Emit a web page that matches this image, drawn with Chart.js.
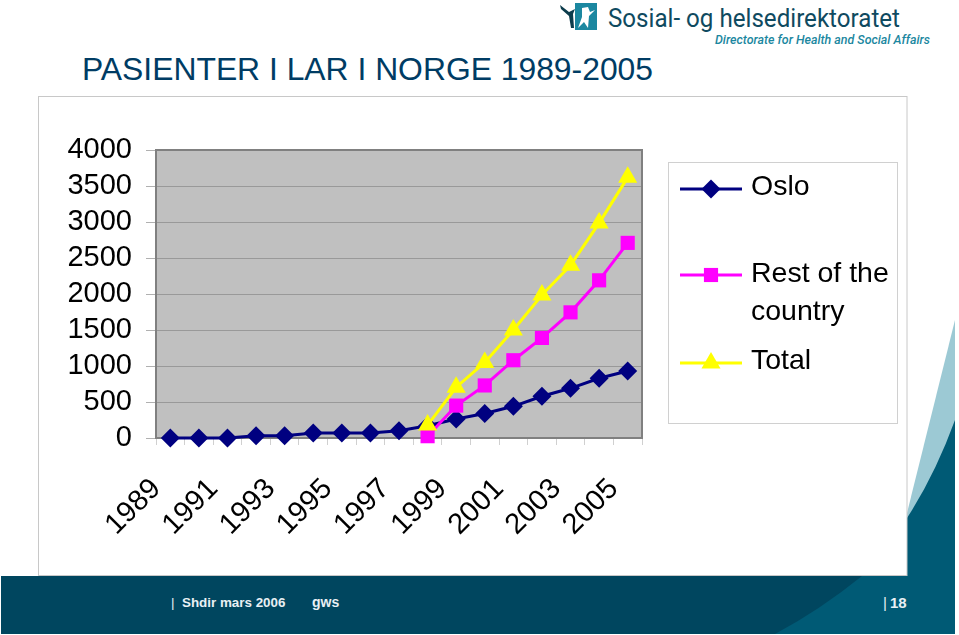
<!DOCTYPE html>
<html>
<head>
<meta charset="utf-8">
<title>Pasienter i LAR i Norge 1989-2005</title>
<script src="https://cdn.jsdelivr.net/npm/chart.js@4/dist/chart.umd.js"></script>
<style>
  html, body { margin: 0; padding: 0; background: #fff; overflow: hidden; }
  #page { position: relative; width: 959px; height: 635px; }
  #page svg, #page canvas { position: absolute; left: 0; top: 0; }
</style>
</head>
<body>
<div id="page">
  <svg width="959" height="635" font-family="Liberation Sans, Arial, sans-serif">
    <!-- slide artwork -->
    <path d="M955 320 L907 513 L907 520 Q935 485 955 440 Z" fill="#9cc9d4"/>
    <path d="M955 420 Q935 475 907 518 L907 576 L1 576 L1 634 L955 634 Z" fill="#005a75"/>
    <path d="M1 576 L862 576 Q820 610 775 634 L1 634 Z" fill="#00465f"/>
    <rect x="38.5" y="96.5" width="868.5" height="479" fill="#fff" stroke="#c8c8c8"/>
    <rect x="668.5" y="162.5" width="229" height="261" fill="#fff" stroke="#d0d0d0"/>
    <!-- logo -->
    <rect x="575" y="3" width="22" height="27" fill="#1b87a0"/>
    <path d="M560 5 L569 12 L575 9 L573 14 L574 28 L571 28 L569 16 L561 9 Z" fill="#0c3c4c"/>
    <path d="M582 8 L588 7 L590 12 L595 10 L589 16 L588 28 L584 22 L578 28 L582 17 Z" fill="#fff"/>
    <text x="608" y="27" font-family="Roboto, sans-serif" font-size="25" fill="#0f4a60" textLength="292" lengthAdjust="spacingAndGlyphs">Sosial- og helsedirektoratet</text>
    <text x="715" y="44" font-family="Roboto, sans-serif" font-size="12.5" font-weight="500" font-style="italic" fill="#1b87a0" textLength="215" lengthAdjust="spacingAndGlyphs">Directorate for Health and Social Affairs</text>
    <!-- title and footer -->
    <text x="82" y="80" font-size="32" fill="#003c64" textLength="571" lengthAdjust="spacingAndGlyphs">PASIENTER I LAR I NORGE 1989-2005</text>
    <g font-size="13.4" font-weight="bold" fill="#e8f0f4">
      <text x="171" y="607" font-weight="normal">|</text>
      <text x="182" y="607">Shdir mars 2006</text>
      <text x="312" y="607" font-size="14">gws</text>
      <text x="883" y="608" font-weight="normal" font-size="15">|</text>
      <text x="890" y="608" font-size="15">18</text>
    </g>
  </svg>
  <canvas id="chart" width="959" height="635"></canvas>
</div>
<script>
// values
const years = ['1989','1990','1991','1992','1993','1994','1995','1996','1997','1998','1999','2000','2001','2002','2003','2004','2005'];
const oslo = [0, 0, 0, 30, 30, 70, 70, 70, 100, 170, 265, 340, 440, 580, 690, 830, 930];
const rest = [null, null, null, null, null, null, null, null, null, 25, 450, 730, 1080, 1390, 1745, 2190, 2710];
const total = [null, null, null, null, null, null, null, null, null, 180, 705, 1050, 1500, 1985, 2400, 2985, 3620];
const legendLabels = [['Oslo'], ['Rest of the', 'country'], ['Total']];
const legendTextY = [187, 274, 361];
const legendMarkY = [189, 275, 363];

const ink = '#000';
const axisGrey = '#808080';

// grey plot background and frame
const plotFrame = {
  id: 'plotFrame',
  beforeDraw(chart) {
    const a = chart.chartArea, ctx = chart.ctx;
    ctx.save();
    ctx.fillStyle = '#c0c0c0';
    ctx.fillRect(a.left, a.top, a.width, a.height);
    ctx.restore();
  },
  beforeDatasetsDraw(chart) {
    const a = chart.chartArea, ctx = chart.ctx;
    ctx.save();
    ctx.strokeStyle = axisGrey;
    ctx.lineWidth = 2;
    ctx.strokeRect(a.left, a.top, a.width, a.height);
    ctx.restore();
  }
};

// legend sits in its own box to the right, with taller rows than the built-in one
const sideLegend = {
  id: 'sideLegend',
  afterDraw(chart) {
    const ctx = chart.ctx;
    ctx.save();
    chart.data.datasets.forEach((ds, i) => {
      const y = legendMarkY[i];
      ctx.strokeStyle = ds.borderColor;
      ctx.lineWidth = 3;
      ctx.beginPath();
      ctx.moveTo(680, y);
      ctx.lineTo(742, y);
      ctx.stroke();
      ctx.fillStyle = ds.backgroundColor;
      ctx.strokeStyle = ds.backgroundColor;
      ctx.lineWidth = 0;
      Chart.helpers.drawPoint(ctx, { pointStyle: ds.pointStyle, radius: ds.pointRadius, rotation: 0, borderWidth: 0 }, 711, y);
      ctx.fillStyle = ink;
      ctx.font = '28.5px "Liberation Sans", Arial, sans-serif';
      ctx.textBaseline = 'middle';
      legendLabels[i].forEach((t, n) => ctx.fillText(t, 751, legendTextY[i] + n * 38));
    });
    ctx.restore();
  }
};

new Chart(document.getElementById('chart'), {
  type: 'line',
  data: {
    labels: years,
    datasets: [
      { label: 'Oslo', data: oslo, borderColor: '#000080', backgroundColor: '#000080', pointStyle: 'rectRot', pointRadius: 9.5, pointBorderWidth: 0, order: 3 },
      { label: 'Rest of the country', data: rest, borderColor: '#ff00ff', backgroundColor: '#ff00ff', pointStyle: 'rect', pointRadius: 10, pointBorderWidth: 0, order: 2 },
      { label: 'Total', data: total, borderColor: '#ffff00', backgroundColor: '#ffff00', pointStyle: 'triangle', pointRadius: 11, pointBorderWidth: 0, order: 1 }
    ]
  },
  plugins: [plotFrame, sideLegend],
  options: {
    responsive: false,
    animation: false,
    clip: false,
    tension: 0,
    layout: { padding: { left: 0, top: 150, right: 317, bottom: 0 } },
    elements: { line: { borderWidth: 3 } },
    plugins: { legend: { display: false }, title: { display: false }, tooltip: { enabled: false } },
    scales: {
      x: {
        offset: true,
        afterFit(scale) { scale.height = 197; },
        border: { display: false },
        grid: { offset: true, drawOnChartArea: false, drawTicks: true, tickLength: 7, color: '#d0d0d0' },
        ticks: {
          autoSkip: false,
          maxRotation: 45,
          minRotation: 45,
          padding: 27,
          labelOffset: -14,
          color: ink,
          font: { family: '"Liberation Sans", Arial, sans-serif', size: 29 },
          callback(value, index) { return index % 2 === 0 ? this.getLabelForValue(value) : ''; }
        }
      },
      y: {
        min: 0,
        max: 4000,
        afterFit(scale) { scale.width = 156; },
        border: { display: false },
        grid: { color: '#999999', lineWidth: 1, tickLength: 10, tickColor: '#b0b0b0' },
        ticks: {
          stepSize: 500,
          autoSkip: false,
          padding: 14,
          color: ink,
          font: { family: '"Liberation Sans", Arial, sans-serif', size: 29 },
          callback(value) { return String(value); }
        }
      }
    }
  }
});
</script>
</body>
</html>
